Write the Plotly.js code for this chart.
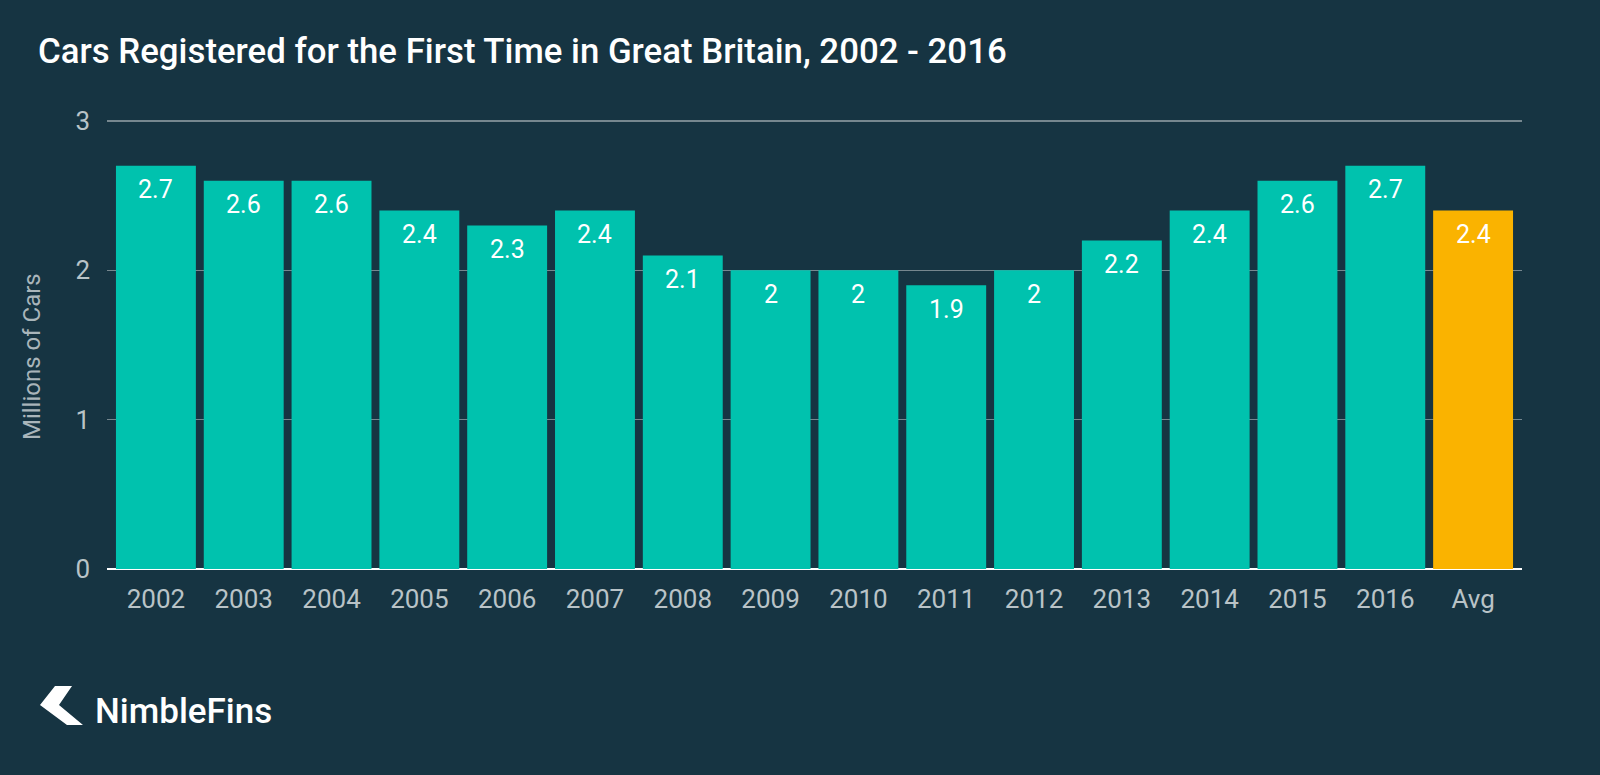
<!DOCTYPE html>
<html>
<head>
<meta charset="utf-8">
<script src="https://cdn.plot.ly/plotly-3.0.1.min.js"></script>
<style>
html,body{margin:0;padding:0;background:#163442;}
#chart{width:1600px;height:775px;}
</style>
</head>
<body>
<div id="chart"></div>
<script>
const categories = ["2002","2003","2004","2005","2006","2007","2008","2009","2010","2011","2012","2013","2014","2015","2016","Avg"];
const values = [2.7,2.6,2.6,2.4,2.3,2.4,2.1,2.0,2.0,1.9,2.0,2.2,2.4,2.6,2.7,2.4];
const labels = ["2.7","2.6","2.6","2.4","2.3","2.4","2.1","2","2","1.9","2","2.2","2.4","2.6","2.7","2.4"];
const barColors = categories.map(c => c === "Avg" ? "#fab300" : "#00c2ae");

const W = 1600, H = 775;
const M = {l:107, r:78, t:118, b:206};
const pw = W - M.l - M.r, ph = H - M.t - M.b;
function px(x){ return (x - M.l) / pw; }
function py(y){ return (H - M.b - y) / ph; }

const chev = [[55,686],[72,686],[59,705],[83,725],[67,725],[40,705]];
const chevPath = "M" + chev.map(p => px(p[0]).toFixed(5) + "," + py(p[1]).toFixed(5)).join(" L") + " Z";

const trace = {
  type: "bar",
  x: categories,
  y: values,
  marker: {color: barColors, line: {width: 0}},
  hoverinfo: "x+y"
};

// category axis: annotation x is the category's serial position
const labelAnns = categories.map((c, i) => ({
  x: i, y: values[i], xref: "x", yref: "y",
  text: labels[i],
  showarrow: false,
  xanchor: "center", yanchor: "middle",
  yshift: -24,
  font: {family: "Roboto, sans-serif", size: 25, color: "#ffffff"}
}));

const layout = {
  width: W, height: H,
  paper_bgcolor: "#163442",
  plot_bgcolor: "#163442",
  margin: M,
  bargap: 0.09,
  showlegend: false,
  title: {
    text: "Cars Registered for the First Time in Great Britain, 2002 - 2016",
    font: {family: "Roboto, sans-serif", size: 34.8, color: "#ffffff", weight: 500},
    xref: "container", yref: "container",
    x: 38 / W, xanchor: "left",
    y: 1 - 51 / H, yanchor: "middle"
  },
  xaxis: {
    type: "category",
    range: [-0.557, 15.557],
    showgrid: false,
    zeroline: false,
    showline: false,
    ticks: "",
    tickfont: {family: "Roboto, sans-serif", size: 26, color: "#b9c3c7"},
    ticklabelstandoff: 12
  },
  yaxis: {
    range: [0, 3.02],
    tickvals: [0, 1, 2, 3],
    ticktext: ["0", "1", "2", "3"],
    showgrid: true,
    gridcolor: "#76878f",
    gridwidth: 1.5,
    zeroline: true,
    zerolinecolor: "#ffffff",
    zerolinewidth: 2.5,
    showline: false,
    ticks: "",
    tickfont: {family: "Roboto, sans-serif", size: 26, color: "#b9c3c7"},
    ticklabelstandoff: 16
  },
  annotations: labelAnns.concat([
    {
      text: "Millions of Cars",
      xref: "paper", yref: "paper",
      x: px(32), y: py(357),
      xanchor: "center", yanchor: "middle",
      textangle: -90,
      showarrow: false,
      font: {family: "Roboto, sans-serif", size: 24, color: "#a9b5ba"}
    },
    {
      text: "NimbleFins",
      xref: "paper", yref: "paper",
      x: px(93), y: py(711),
      xanchor: "left", yanchor: "middle",
      showarrow: false,
      font: {family: "Roboto, sans-serif", size: 35, color: "#ffffff", weight: 500}
    }
  ]),
  shapes: [
    {
      type: "path",
      xref: "paper", yref: "paper",
      path: chevPath,
      fillcolor: "#ffffff",
      line: {width: 0}
    }
  ]
};

Plotly.newPlot("chart", [trace], layout, {displayModeBar: false, staticPlot: true});
</script>
</body>
</html>
